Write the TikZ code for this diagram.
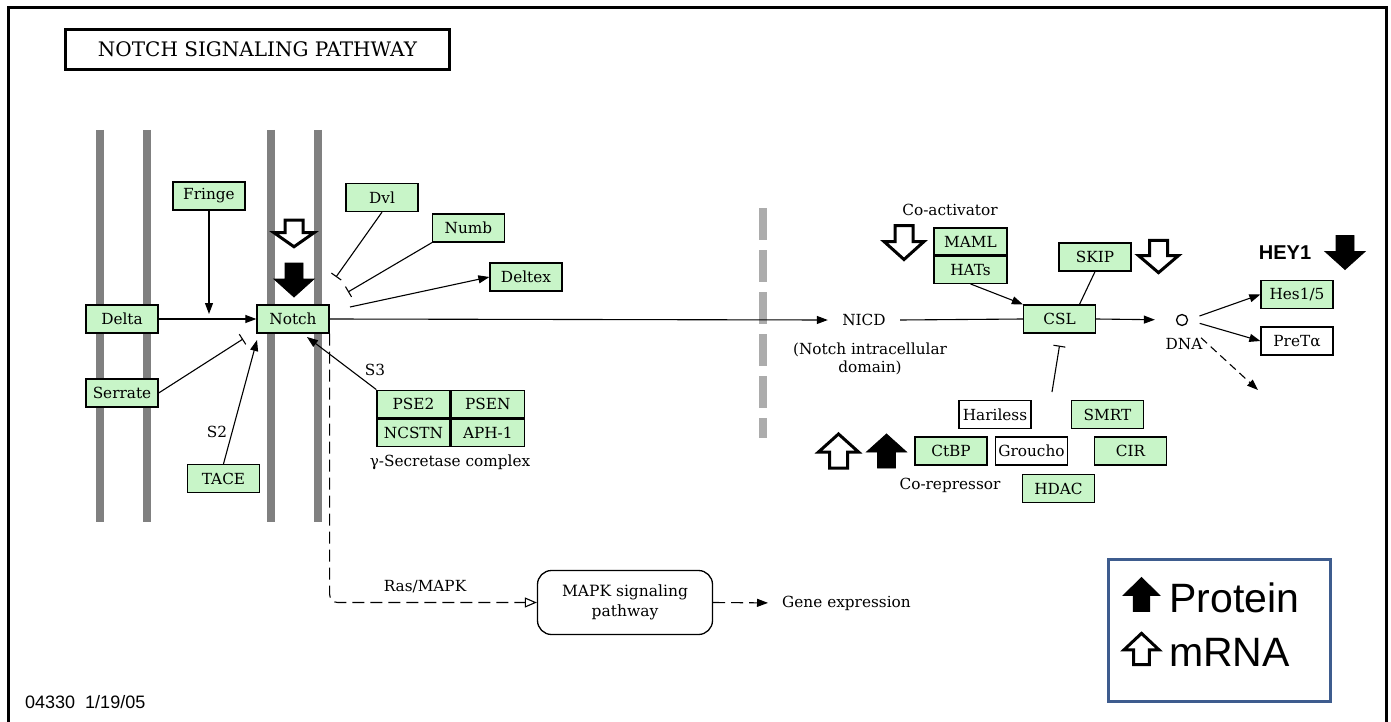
\documentclass[tikz,border=0pt]{standalone}
\usepackage{fontspec}
\setmainfont{DejaVu Serif}
\newfontfamily\legendfont{Liberation Sans}
\usetikzlibrary{arrows.meta,positioning}
\definecolor{keggreen}{RGB}{200,245,200}
\definecolor{membranegray}{RGB}{128,128,128}
\definecolor{legendblue}{RGB}{62,92,142}

\begin{document}
\begin{tikzpicture}[x=1pt, y=-1pt,
    font=\fontsize{15.3}{18}\selectfont,
    gbox/.style={draw, line width=1.3pt, fill=keggreen, minimum width=72pt,
      minimum height=28pt, inner sep=0pt, font=\fontsize{15.3}{17}\selectfont},
    wbox/.style={gbox, fill=white},
    cell/.style={gbox, minimum width=73pt, minimum height=27.5pt},
    lbl/.style={inner sep=0pt, align=center},
    act/.style={line width=1.1pt, -{Triangle[length=11pt, width=8pt]}},
    inh/.style={line width=1.1pt, -{Bar[width=12pt, line width=1.1pt]}},
    kdash/.style={line width=1.1pt, dash pattern=on 12pt off 6pt},
    membrane/.style={line width=8pt, draw=membranegray},
    dnmark/.pic={\path[pic actions] (-9,-17) -- (9,-17) -- (9,-1) -- (20,-1)
      -- (0,17) -- (-20,-1) -- (-9,-1) -- cycle;},
    upmark/.pic={\path[pic actions] (-9,17) -- (9,17) -- (9,1) -- (20,1)
      -- (0,-17) -- (-20,1) -- (-9,1) -- cycle;},
    solidmark/.style={fill=black, draw=black, line width=0.8pt},
    openmark/.style={fill=white, draw=black, line width=3pt},
  ]
  \useasboundingbox (0,0) rectangle (1391,722);
  \draw[line width=3pt] (8,730) -- (8,8) -- (1386,8) -- (1386,730);

  \node[draw, line width=3pt, minimum width=384pt, minimum height=40pt, inner sep=0pt,
    font=\fontsize{20}{22}\selectfont] (title) at (257.5,49.5) {NOTCH SIGNALING PATHWAY};

  \foreach \mx in {100,147,271,318}
    \draw[membrane] (\mx,130) -- (\mx,522);
  \draw[membrane, draw=gray!65, dash pattern=on 32pt off 10pt] (763,208) -- (763,438);

  \node[gbox] (fringe) at (209,196) {Fringe};
  \node[gbox] (delta) at (122,319) {Delta};
  \node[gbox] (notch) at (293,319) {Notch};
  \node[gbox] (serrate) at (122,393) {Serrate};
  \node[gbox] (tace) at (223.5,478.5) {TACE};
  \node[gbox] (dvl) at (382,197.5) {Dvl};
  \node[gbox] (numb) at (468.5,228) {Numb};
  \node[gbox] (deltex) at (526,277) {Deltex};
  \node[cell] (pse2) at (413.5,404) {PSE2};
  \node[cell, right=0pt of pse2] (psen) {PSEN};
  \node[cell, below=0pt of pse2] (ncstn) {NCSTN};
  \node[cell, below=0pt of psen] (aph1) {APH-1};
  \node[lbl] (secretase) at (450,462) {γ-Secretase complex};
  \node[lbl] (s3) at (375,370) {S3};
  \node[lbl] (s2) at (217,432) {S2};

  \node[lbl, minimum width=72pt] (nicd) at (864,320) {NICD};
  \node[lbl] (nicddom) at (870,359) {(Notch intracellular\\domain)};
  \node[lbl] (coact) at (950,210) {Co-activator};
  \node[cell, minimum height=27pt] (maml) at (970.5,241.5) {MAML};
  \node[cell, minimum height=27pt, below=0pt of maml] (hats) {HATs};
  \node[gbox] (skip) at (1095,257) {SKIP};
  \node[gbox] (csl) at (1059.5,319) {CSL};
  \node[draw, circle, line width=1.3pt, minimum size=11pt, inner sep=0pt] (dna) at (1182,320) {};
  \node[lbl] (dnalbl) at (1184,344) {DNA};
  \node[gbox] (hes) at (1297,294.5) {Hes1/5};
  \node[wbox] (pret) at (1297,341) {PreTα};
  \node[lbl, font=\legendfont\bfseries\fontsize{20}{22}\selectfont] (hey1) at (1285,253) {HEY1};

  \node[wbox] (hariless) at (995,414.5) {Hariless};
  \node[gbox] (smrt) at (1107.5,414.5) {SMRT};
  \node[gbox] (ctbp) at (951,451) {CtBP};
  \node[wbox] (groucho) at (1031.5,451) {Groucho};
  \node[gbox] (cir) at (1130.5,451) {CIR};
  \node[gbox] (hdac) at (1058.5,488.5) {HDAC};
  \node[lbl] (corep) at (950,485) {Co-repressor};

  \node[draw, line width=1.3pt, rounded corners=14pt, minimum width=175pt, minimum height=64pt,
    align=center, font=\fontsize{15.5}{20}\selectfont] (mapk) at (625,602.5) {MAPK signaling\\pathway};
  \node[lbl, anchor=west] (gene) at (782,603) {Gene expression};
  \node[lbl] (ras) at (425,587) {Ras/MAPK};

  \coordinate (serbar) at (243,339);
  \coordinate (tacetip) at (257,340);
  \coordinate (s3tip) at (307,337);
  \coordinate (dvlbar) at (336,277);
  \coordinate (numbbar) at (348,292);
  \coordinate (deltexbase) at (350,307);
  \coordinate (repbase) at (1052,392);
  \coordinate (dnaout) at (1258,390);

  \draw[act, shorten >=5pt] (fringe.south) -- (fringe.south |- delta.center);
  \draw[act] (delta) -- (notch);
  \draw[inh] (serrate.east) -- (serbar);
  \draw[act] (tace.north) -- (tacetip);
  \draw[act] (pse2.north west) -- (s3tip);
  \draw[inh] (dvl.south) -- (dvlbar);
  \draw[inh] (numb.south west) -- (numbbar);
  \draw[act] (deltexbase) -- (deltex.west);
  \draw[act] (notch.east) -- (nicd.west);
  \draw[line width=1.1pt] (nicd.east) -- (csl.west);
  \draw[act] (hats.south) -- (csl.north west);
  \draw[line width=1.1pt] (skip.south) -- ([xshift=20pt]csl.north);
  \draw[inh] (repbase) -- ([yshift=-12pt]csl.south);
  \draw[act, shorten >=21pt] (csl.east) -- (dna.west);
  \draw[act, shorten <=12pt] (dna.east) -- (hes.west);
  \draw[act, shorten <=12pt] (dna.east) -- (pret.west);
  \draw[act, dash pattern=on 8pt off 5pt, shorten <=20pt] (dna.south east) -- (dnaout);
  \draw[kdash, rounded corners=8pt, -{Triangle[open, length=12pt, width=10pt]}]
    (notch.south east) |- (mapk.west);
  \draw[kdash, shorten >=14pt, -{Triangle[length=11pt, width=8pt]}] (mapk.east) -- (gene.west);

  \pic[openmark, yscale=0.78] at (294,233.5) {dnmark};
  \pic[solidmark] at (294,280) {dnmark};
  \pic[openmark] at (904,242.5) {dnmark};
  \pic[openmark, yscale=0.95] at (1158.5,256.5) {dnmark};
  \pic[solidmark] at (1345,252.5) {dnmark};
  \pic[openmark] at (838.5,451) {upmark};
  \pic[solidmark] at (886.5,451) {upmark};

  \node[draw=legendblue, line width=3pt, minimum width=222pt, minimum height=142pt,
    inner sep=0pt] (legend) at (1219.5,630.5) {};
  \pic[solidmark, xscale=0.92] at (1141.5,594.5) {upmark};
  \pic[openmark, xscale=0.88, yscale=0.92] at (1141.5,649) {upmark};
  \node[anchor=base west, inner sep=0pt, font=\legendfont\fontsize{41}{44}\selectfont]
    (protein) at (1169,612) {Protein};
  \node[anchor=base west, inner sep=0pt, font=\legendfont\fontsize{41}{44}\selectfont]
    (mrna) at (1169,666) {mRNA};

  \node[anchor=base west, inner sep=0pt, font=\legendfont\fontsize{18}{20}\selectfont]
    (code) at (25,708) {04330\ \ 1/19/05};
\end{tikzpicture}
\end{document}
